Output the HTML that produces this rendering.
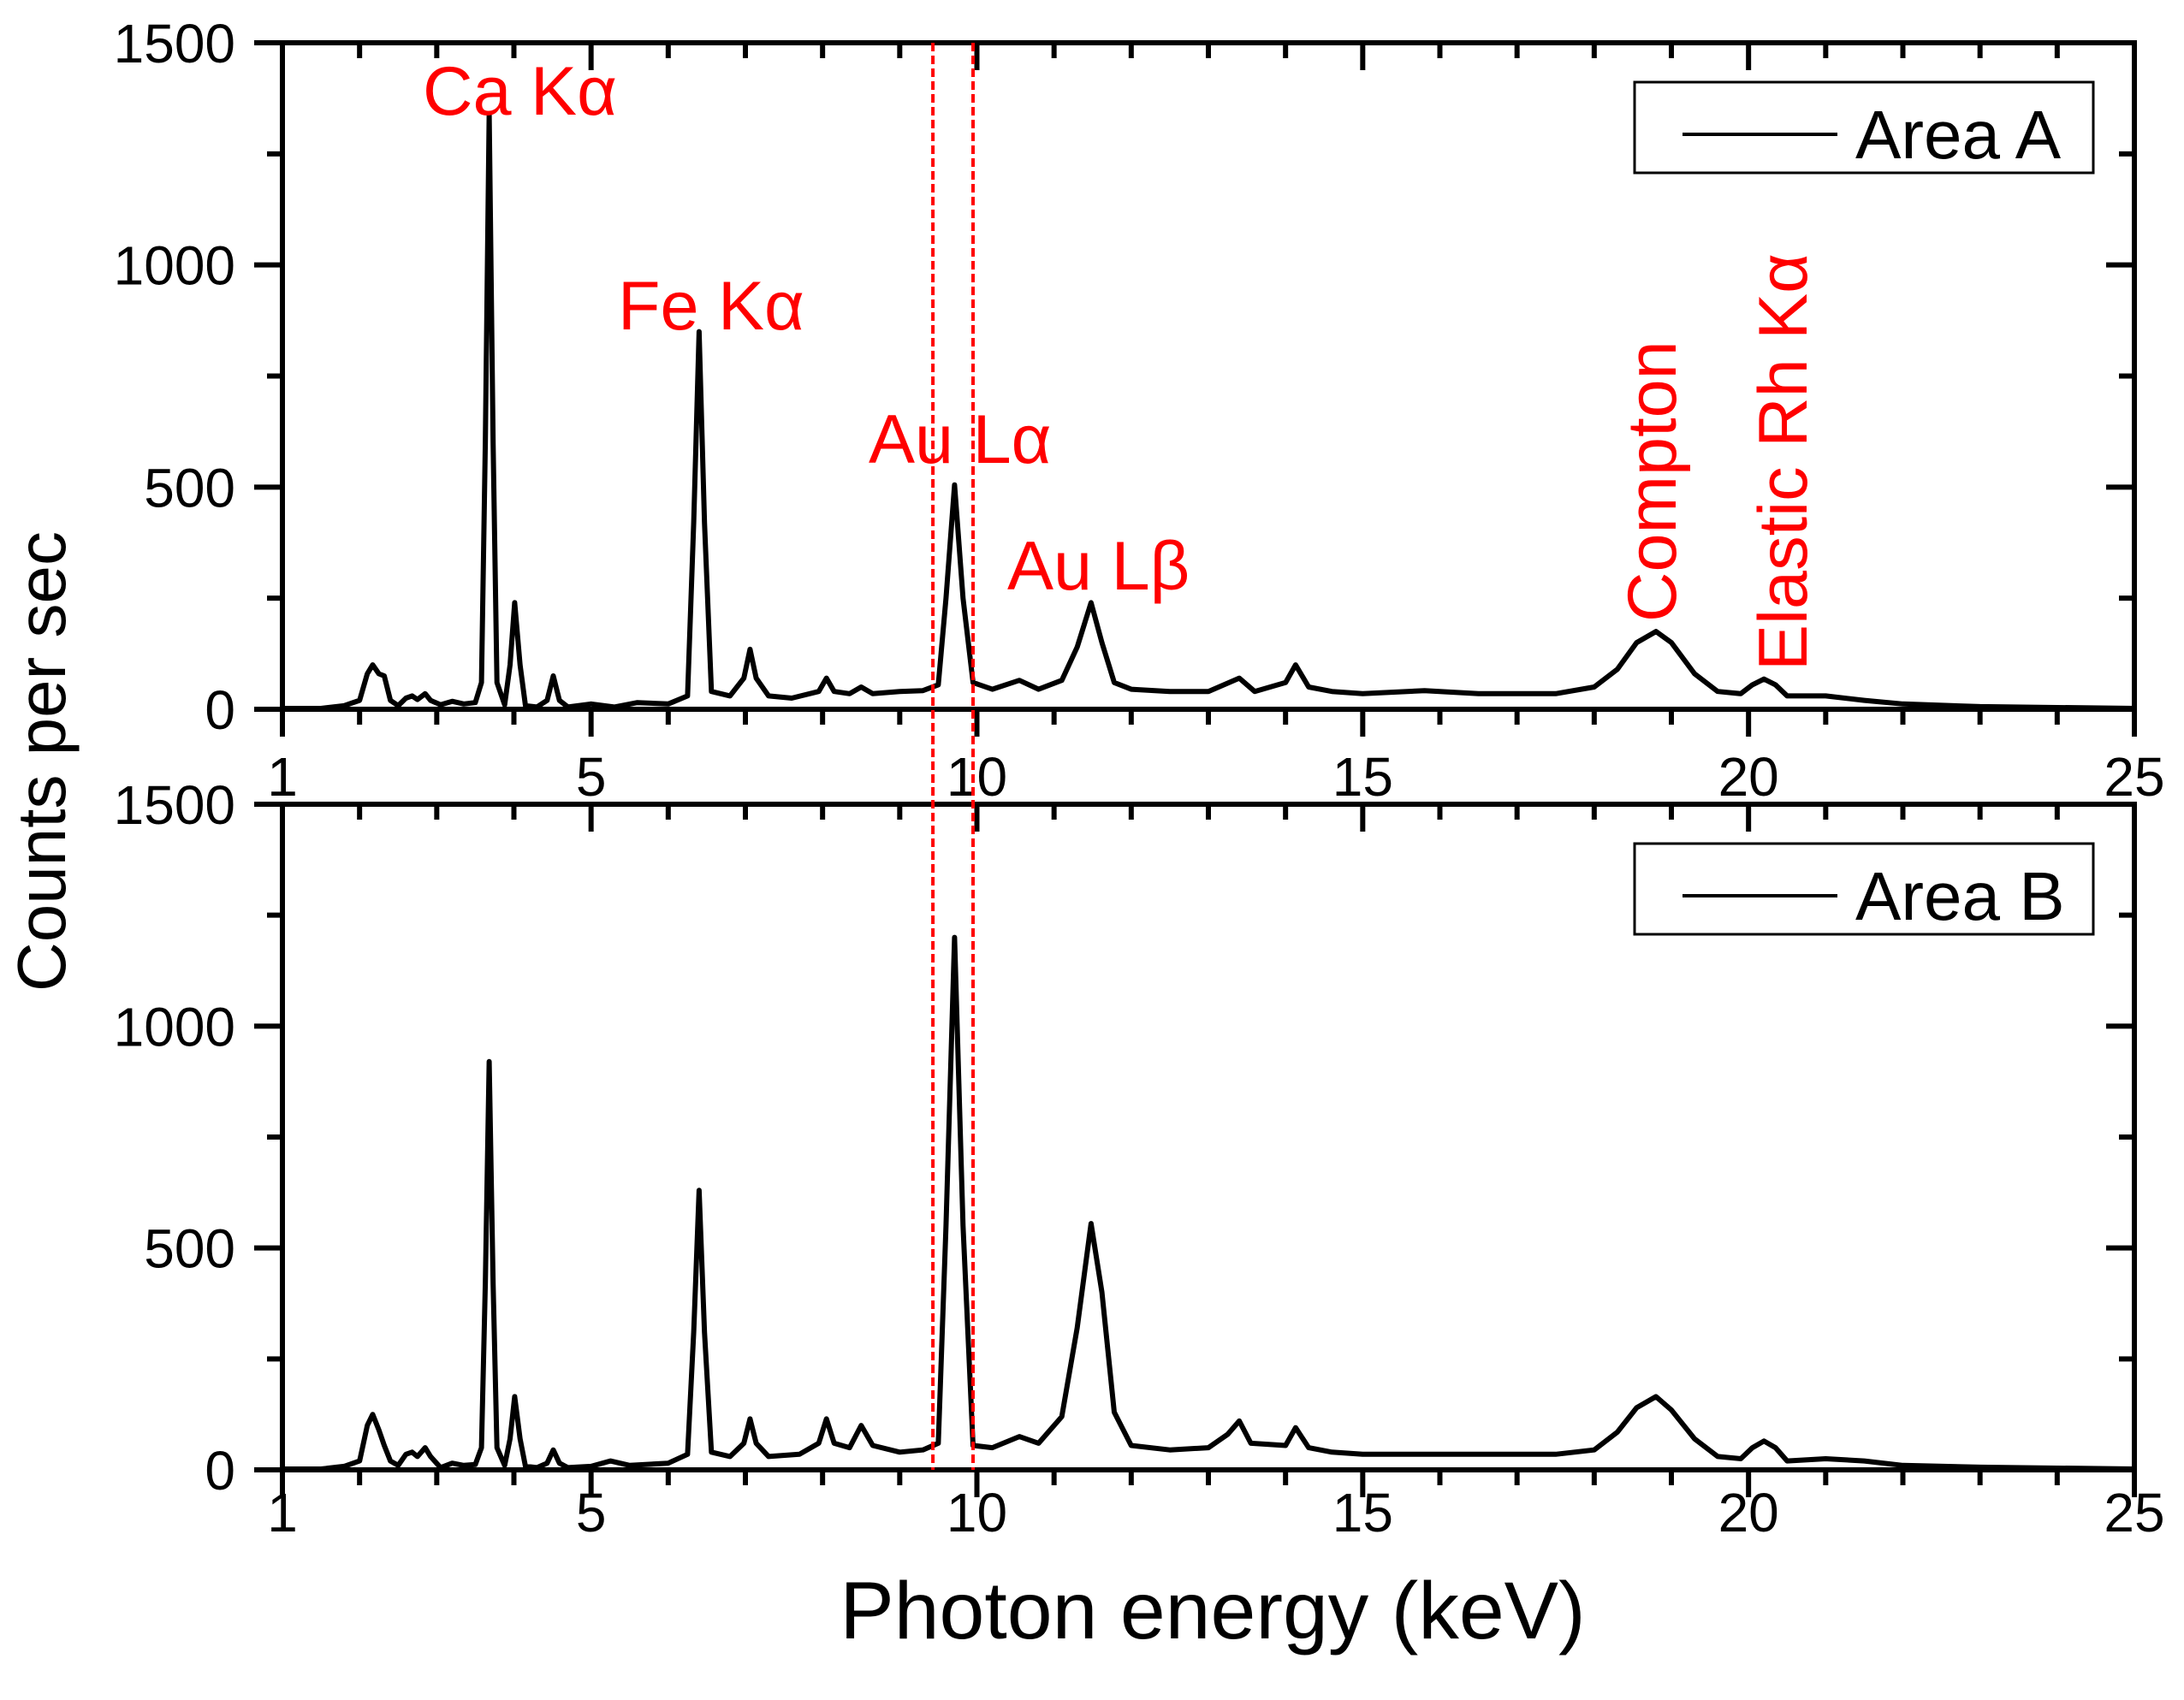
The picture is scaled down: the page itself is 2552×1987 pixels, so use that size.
<!DOCTYPE html>
<html><head><meta charset="utf-8"><style>
html,body{margin:0;padding:0;background:#fff;}
svg{display:block;font-family:"Liberation Sans",Arial,sans-serif;}
</style></head><body>
<svg id="chart" width="2552" height="1987" viewBox="0 0 2552 1987" xmlns="http://www.w3.org/2000/svg"></svg>
<script>
// ---- data ----
const energyA = [1.0,1.5,1.8,2.0,2.1,2.17,2.25,2.32,2.4,2.5,2.6,2.68,2.75,2.85,2.92,3.05,3.2,3.35,3.5,3.58,3.63,3.68,3.73,3.78,3.88,3.95,4.01,4.08,4.15,4.3,4.43,4.51,4.59,4.7,5.0,5.3,5.6,6.0,6.25,6.33,6.40,6.47,6.56,6.8,6.98,7.06,7.14,7.3,7.6,7.95,8.05,8.15,8.35,8.5,8.65,9.0,9.3,9.5,9.6,9.71,9.82,9.95,10.2,10.55,10.8,11.1,11.3,11.48,11.62,11.78,12.0,12.5,13.0,13.4,13.6,14.0,14.13,14.3,14.6,15,15.8,16.5,17.5,18.0,18.3,18.55,18.8,19.0,19.3,19.6,19.9,20.05,20.2,20.35,20.5,21,21.5,22,23,25];
const countsA = [2,2,8,20,80,100,80,75,20,8,25,30,22,35,20,10,18,12,15,60,600,1340,600,60,10,100,240,100,8,5,20,75,20,5,12,5,15,12,30,420,850,420,40,30,70,135,70,30,25,40,70,40,35,50,35,40,42,55,250,505,250,60,45,65,45,65,140,240,150,60,45,40,40,70,40,60,100,50,40,35,42,35,35,50,90,150,175,150,80,40,35,55,68,55,30,30,20,12,6,2];
const energyB = [1.0,1.5,1.8,2.0,2.1,2.17,2.25,2.32,2.4,2.5,2.6,2.68,2.75,2.85,2.92,3.05,3.2,3.35,3.5,3.58,3.63,3.68,3.73,3.78,3.88,3.95,4.01,4.08,4.15,4.3,4.43,4.51,4.59,4.7,5.0,5.25,5.5,6.0,6.25,6.33,6.40,6.47,6.56,6.8,6.98,7.06,7.14,7.3,7.7,7.95,8.05,8.15,8.35,8.5,8.65,9.0,9.3,9.5,9.6,9.71,9.82,9.95,10.2,10.55,10.8,11.1,11.3,11.48,11.62,11.78,12.0,12.5,13.0,13.25,13.4,13.55,14.0,14.13,14.3,14.6,15,16,17.5,18.0,18.3,18.55,18.8,19.0,19.3,19.6,19.9,20.05,20.2,20.35,20.5,21,21.5,22,23,25];
const countsB = [2,2,8,20,100,125,90,55,20,10,35,40,30,50,30,5,15,10,12,50,420,920,420,50,10,70,165,70,8,5,15,45,15,5,8,20,10,15,35,310,630,310,40,30,60,115,60,30,35,60,115,60,50,100,55,40,45,60,550,1200,550,55,50,75,60,120,320,555,400,130,55,45,50,80,110,60,55,95,50,40,35,35,35,45,85,140,165,135,70,30,25,50,65,50,20,25,20,10,6,2];
const xTickLabels = ["1","5","10","15","20","25"];
const xTickValues = [1,5,10,15,20,25];
const yTickLabels = ["0","500","1000","1500"];
const yTickValues = [0,500,1000,1500];
const markerLines = [9.43,9.95];

const NS="http://www.w3.org/2000/svg";
const svg=document.getElementById('chart');
function mk(tag,attrs,parent){const e=document.createElementNS(NS,tag);for(const k in attrs)e.setAttribute(k,attrs[k]);(parent||svg).appendChild(e);return e;}
const L=330,R=2494;
const panels=[{top:50,bot:829,e:energyA,c:countsA,name:'Area A',lbl:930},{top:940,bot:1718,e:energyB,c:countsB,name:'Area B',lbl:1790}];
function xs(v){return L+(v-1)/24*(R-L);}
panels.forEach((p,pi)=>{
  const ys=v=>p.bot-v/1500*(p.bot-p.top);
  const g=mk('g',{});
  
  
  let d='';
  p.e.forEach((x,i)=>{d+=(i?'L':'M')+xs(x).toFixed(1)+','+ys(p.c[i]).toFixed(1);});
  const path=mk('path',{d:d,fill:'none',stroke:'#000','stroke-width':6,'stroke-linejoin':'round'},g);
  
  
  const fr=mk('rect',{x:L,y:p.top,width:R-L,height:p.bot-p.top,fill:'none',stroke:'#000','stroke-width':6},g);
  
  
  for(let k=1;k<=25;k++){
    const major=(k%5===0)||k===1;
    const x=xs(k);
    mk('line',{x1:x,x2:x,y1:p.bot,y2:p.bot+(major?32:18),stroke:'#000','stroke-width':6},g);
    mk('line',{x1:x,x2:x,y1:p.top,y2:p.top+(major?32:18),stroke:'#000','stroke-width':6},g);
  }
  xTickValues.forEach((v,i)=>{
    const t=mk('text',{x:xs(v),y:p.lbl,'font-size':64,'text-anchor':'middle',fill:'#000'},g);
    t.textContent=xTickLabels[i];
    
    
  });
  for(let v=0;v<=1500;v+=250){
    const major=v%500===0;const y=ys(v);
    mk('line',{x1:L,x2:L-(major?33:18),y1:y,y2:y,stroke:'#000','stroke-width':6},g);
    mk('line',{x1:R,x2:R-(major?33:18),y1:y,y2:y,stroke:'#000','stroke-width':6},g);
  }
  yTickValues.forEach((v,i)=>{
    const t=mk('text',{x:275,y:ys(v)+23,'font-size':64,'text-anchor':'end',fill:'#000'},g);
    t.textContent=yTickLabels[i];
    
    
  });
  const ly=p.top+46;
  const lg=mk('g',{},g);
  
  
  mk('rect',{x:1910,y:ly,width:536,height:106,fill:'#fff',stroke:'#000','stroke-width':3},lg);
  mk('line',{x1:1966,x2:2147,y1:ly+61,y2:ly+61,stroke:'#000','stroke-width':4},lg);
  const lt=mk('text',{x:2168,y:ly+89,'font-size':80,fill:'#000'},lg);
  lt.textContent=p.name;
});
markerLines.forEach(v=>{
  const l=mk('line',{x1:xs(v),x2:xs(v),y1:50,y2:1718,stroke:'#f00','stroke-width':4,'stroke-dasharray':'10,5'});
  
  
});
</script>
<script>
(function(){
const NS="http://www.w3.org/2000/svg";const svg=document.getElementById('chart');
function tx(s,a,name){const e=document.createElementNS(NS,'text');for(const k in a)e.setAttribute(k,a[k]);e.textContent=s;svg.appendChild(e);}
tx('Ca Kα',{x:494,y:134,'font-size':81,fill:'#f00'},'label-ca-ka');
tx('Fe Kα',{x:722,y:385,'font-size':81,fill:'#f00'},'label-fe-ka');
tx('Au Lα',{x:1015,y:541,'font-size':81,fill:'#f00'},'label-au-la');
tx('Au Lβ',{x:1177,y:689,'font-size':81,fill:'#f00'},'label-au-lb');
tx('Compton',{x:0,y:0,'font-size':81,fill:'#f00',transform:'translate(1958,727) rotate(-90)'},'label-compton');
tx('Elastic Rh Kα',{x:0,y:0,'font-size':81,fill:'#f00',transform:'translate(2111,784) rotate(-90)'},'label-elastic-rh-ka');
tx('Counts per sec',{x:0,y:0,'font-size':80,fill:'#000','text-anchor':'middle',transform:'translate(76,890) rotate(-90)'},'y-axis-title');
tx('Photon energy (keV)',{x:1417,y:1915,'font-size':95,fill:'#000','text-anchor':'middle'},'x-axis-title');
})();
</script>
</body></html>
